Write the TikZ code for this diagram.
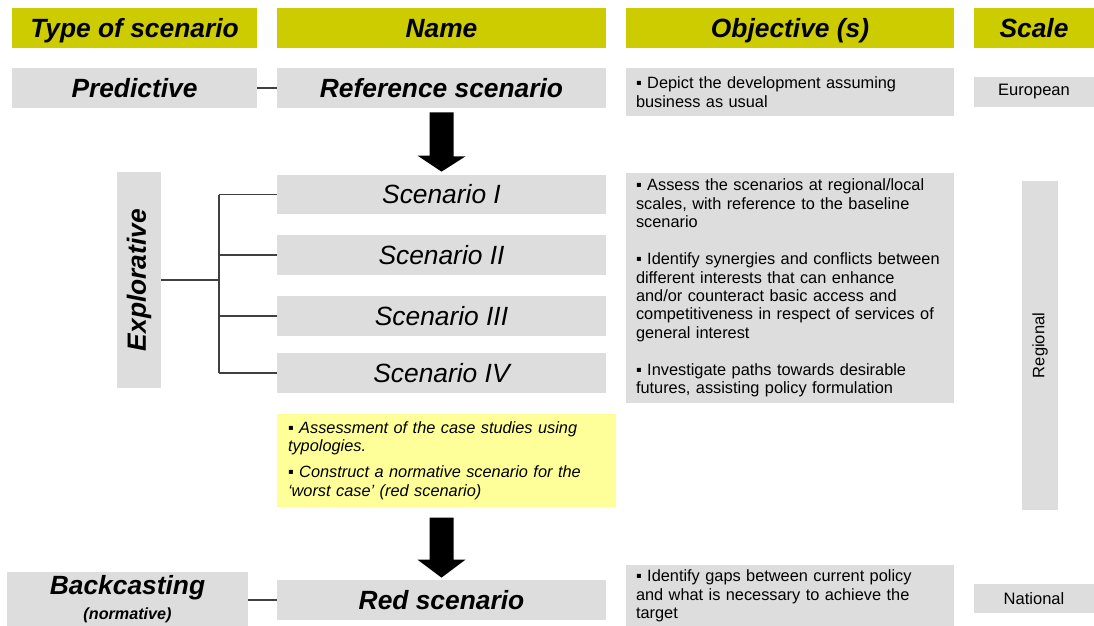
\documentclass[tikz,border=0pt]{standalone}
\usepackage{fontspec}
\usepackage{graphicx}
\setmainfont{Liberation Sans}
\usetikzlibrary{calc}
\definecolor{header}{RGB}{204, 204, 0}
\definecolor{cell}{RGB}{221, 221, 221}
\definecolor{note}{RGB}{255, 255, 153}

\begin{document}
\begin{tikzpicture}[x=0.02cm, y=-0.02cm,
		cellsize/.style 2 args={minimum width=#1*0.02cm, minimum height=#2*0.02cm, inner sep=0pt},
		capline/.style={text height=10.8pt, text depth=0pt},
		headcell/.style={fill=header, capline, font=\bfseries\itshape\fontsize{15}{18}\selectfont},
		typecell/.style={fill=cell, font=\bfseries\itshape\fontsize{15}{18}\selectfont},
		namecell/.style={fill=cell, capline, font=\itshape\fontsize{15}{18}\selectfont},
		objcell/.style={fill=cell, inner xsep=10*0.02cm, text width=308*0.02cm, align=left, font=\fontsize{9.3}{10.5}\selectfont},
		scalecell/.style={fill=cell, font=\fontsize{9.4}{11}\selectfont},
		link/.style={draw=black!75, line width=0.6pt}]
	\useasboundingbox (0,0) rectangle (1094,625);

	% column heads
	\node [headcell, cellsize={245}{40}] (htype) at (134.5,28) {Type of scenario};
	\node [headcell, cellsize={329}{40}] (hname) at (441.5,28) {Name};
	\node [headcell, cellsize={328}{40}] (hobj) at (790,28) {Objective (s)};
	\node [headcell, cellsize={120}{40}] (hscale) at (1034,28) {Scale};

	% predictive
	\node [typecell, capline, cellsize={245}{40}] (pred) at (134.5,88) {Predictive};
	\node [typecell, capline, cellsize={329}{40}] (ref) at (441.5,88) {Reference scenario};
	\node [objcell, cellsize={328}{48}] (obj1) at (790,92) {▪ Depict the development assuming\\ business as usual};
	\node [scalecell, cellsize={120}{30}] (europe) at (1034,92) {European};
	\draw [link] (pred.east) -- (ref.west);

	% explorative
	\node [typecell, cellsize={44}{216}] (expl) at (139,280) {\rotatebox{90}{Explorative}};
	\node [namecell, cellsize={329}{39}] (sc1) at (441.5,194.5) {Scenario I};
	\node [namecell, cellsize={329}{40}] (sc2) at (441.5,255) {Scenario II};
	\node [namecell, cellsize={329}{40}] (sc3) at (441.5,316) {Scenario III};
	\node [namecell, cellsize={329}{40}] (sc4) at (441.5,373) {Scenario IV};
	\node [objcell, cellsize={328}{230}] (obj2) at (790,288) {▪ Assess the scenarios at regional/local\\ scales, with reference to the baseline\\ scenario\\[10.5pt]
		▪ Identify synergies and conflicts between\\ different interests that can enhance\\ and/or counteract basic access and\\ competitiveness in respect of services of\\ general interest\\[10.5pt]
		▪ Investigate paths towards desirable\\ futures, assisting policy formulation};
	\node [scalecell, cellsize={36}{329}] (region) at (1040,345.5) {\rotatebox{90}{Regional}};
	\coordinate (fork) at (219,280);
	\draw [link] (expl.east) -- (expl.east -| fork);
	\draw [link] (fork |- sc1.west) -- (fork |- sc4.west);
	\foreach \s in {sc1,sc2,sc3,sc4}
		\draw [link] (fork |- \s.west) -- (\s.west);
	\fill [black] ($(ref.south)+(-12,4)$) -- ++(24,0) -- ++(0,44) -- ++(12,0) -- ($(sc1.north)+(0,-3)$) -- ++(-24,-16) -- ++(12,0) -- cycle;

	% case studies
	\node [objcell, fill=note, inner xsep=11*0.02cm, text width=317*0.02cm, cellsize={339}{93}, font=\itshape\fontsize{9.3}{10.5}\selectfont] (cases) at (446.5,460.5) {▪ Assessment of the case studies using\\ typologies.\\[4.5pt]
		▪ Construct a normative scenario for the\\ `worst case' (red scenario)};

	% backcasting
	\node [typecell, cellsize={241}{55}, align=center] (back) at (127.5,599) {Backcasting\\[-4pt]{\fontsize{9.2}{11}\selectfont (normative)}};
	\node [typecell, capline, cellsize={329}{40}] (redsc) at (441.5,600) {Red scenario};
	\node [objcell, cellsize={328}{63}] (obj3) at (790,596) {▪ Identify gaps between current policy\\ and what is necessary to achieve the\\ target};
	\node [scalecell, cellsize={120}{29}] (nation) at (1034,598.5) {National};
	\draw [link] (redsc.west) -- (redsc.west -| back.east);
	\fill [black] ($(redsc.north)+(-12,-62)$) -- ++(24,0) -- ++(0,42) -- ++(12,0) -- ($(redsc.north)+(0,-2)$) -- ++(-24,-18) -- ++(12,0) -- cycle;
\end{tikzpicture}
\end{document}
